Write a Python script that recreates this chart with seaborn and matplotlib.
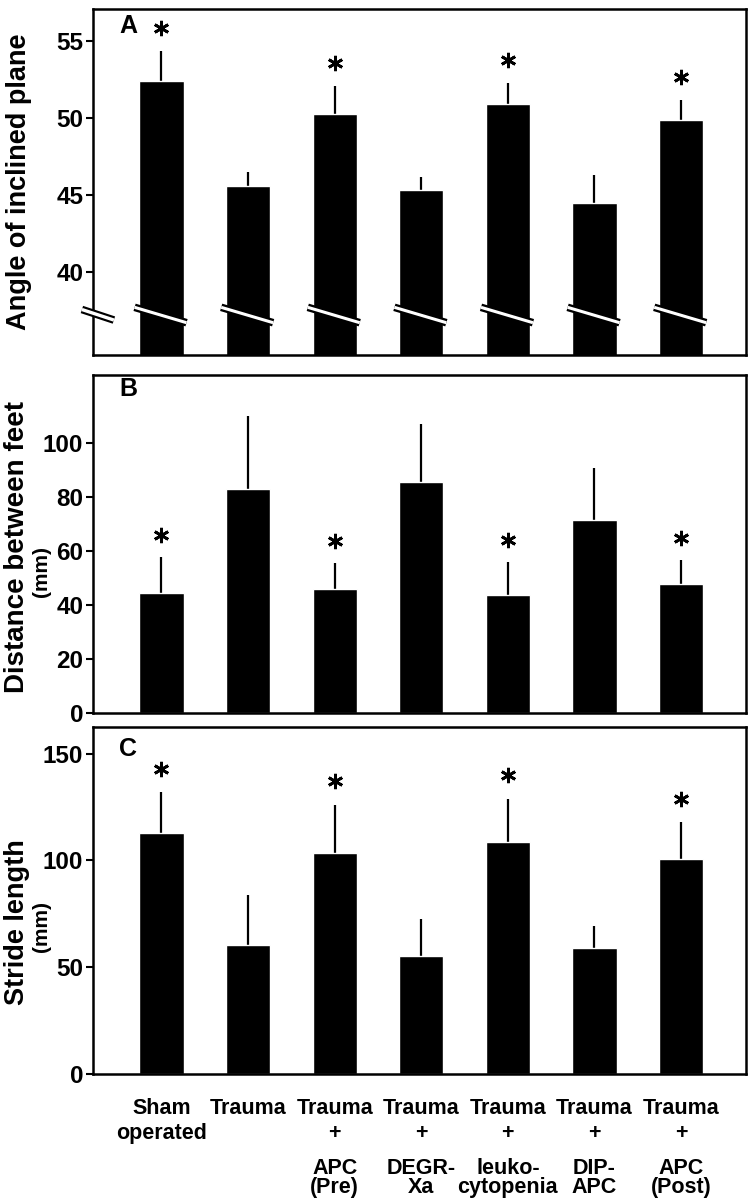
import numpy as np
import pandas as pd
import seaborn as sns
import matplotlib
matplotlib.use("Agg")
import matplotlib.pyplot as plt

# =============================
# 1. DATA
# =============================
groups = ["Sham\noperated", "Trauma", "Trauma\n+", "Trauma\n+",
          "Trauma\n+", "Trauma\n+", "Trauma\n+"]
sub_labels = ["", "", "APC\n(Pre)", "DEGR-\nXa", "leuko-\ncytopenia",
              "DIP-\nAPC", "APC\n(Post)"]
significant = [True, False, True, False, True, False, True]

angle_mean = [52.4, 45.6, 50.25, 45.35, 50.9, 44.5, 49.9]
angle_err = [1.95, 0.9, 1.85, 0.85, 1.4, 1.8, 1.3]

dist_mean = [44.2, 83.0, 45.8, 85.3, 43.6, 71.5, 47.7]
dist_err = [13.4, 27.0, 9.7, 21.7, 12.3, 19.0, 8.9]

stride_mean = [112.7, 60.5, 103.3, 55.4, 108.5, 59.2, 100.9]
stride_err = [19.3, 23.1, 22.7, 17.4, 20.5, 10.3, 16.9]

# =============================
# 2. STYLE
# =============================
sns.set_style("ticks")
plt.rcParams["font.family"] = ["Liberation Sans", "DejaVu Sans"]
plt.rcParams["font.weight"] = "bold"
for key in ["text.color", "axes.labelcolor", "xtick.color", "ytick.color", "axes.edgecolor"]:
    plt.rcParams[key] = "black"

fig = plt.figure(figsize=(7.48, 11.99), dpi=100)
W, H = 748, 1199


def px_axes(left, top, right, bottom):
    return fig.add_axes([left / W, 1 - bottom / H, (right - left) / W, (bottom - top) / H])


ax_a = px_axes(93, 9, 746, 355)
ax_b = px_axes(93, 375, 746, 713)
ax_c = px_axes(93, 727, 746, 1074)

# axes, mean, err, ylim, ticks, star offset, letter, letter offset (px),
# label, unit, label centre (px), unit centre (px)
panels = [
    (ax_a, angle_mean, angle_err, (34.6, 57.1), [40, 45, 50, 55], 1.5, "A", 17,
     "Angle of inclined plane", None, 182, None),
    (ax_b, dist_mean, dist_err, (0, 125), [0, 20, 40, 60, 80, 100], 8.2, "B", 14,
     "Distance between feet", "(mm)", 547, 571),
    (ax_c, stride_mean, stride_err, (0, 162.5), [0, 50, 100, 150], 11.0, "C", 22,
     "Stride length", "(mm)", 922, 927),
]

x = np.arange(len(groups))

for ax, mean, err, ylim, yticks, star_off, letter, letter_dy, ylab, unit, lab_y, unit_y in panels:
    df = pd.DataFrame({"group": [str(i) for i in x], "value": mean})
    sns.barplot(data=df, x="group", y="value", color="black", saturation=1,
                width=0.51, errorbar=None, ax=ax, zorder=2)
    ax.errorbar(x, mean, yerr=[np.zeros(len(err)), err], fmt="none",
                ecolor="black", elinewidth=1.6, capsize=0, zorder=1)

    tops = np.array(mean) + np.array(err)
    sig_x = [i for i in x if significant[i]]
    sig_y = [tops[i] + star_off for i in sig_x]
    ax.plot(sig_x, sig_y, linestyle="none", marker=(6, 2, 0), markersize=11,
            markeredgewidth=2.0, color="black", zorder=3)

    ax.set_xlim(-0.79, 6.75)
    ax.set_ylim(*ylim)
    ax.set_yticks(yticks)
    ax.set_xlabel("")
    ax.set_ylabel("")
    for s in ax.spines.values():
        s.set_linewidth(1.8)
        s.set_visible(True)
    ax.tick_params(axis="y", direction="out", length=5, width=1.5, labelsize=17.5, pad=2)
    ax.tick_params(axis="x", length=0)
    ax.set_xticklabels([])

    ax.text(0.054, 1 - letter_dy / (ax.get_position().height * H), letter,
            transform=ax.transAxes, fontsize=18, fontweight="bold",
            ha="center", va="center")

    # y labels
    fig.text((19 if unit is None else 17) / W, 1 - lab_y / H, ylab, rotation=90,
             fontsize=20 if letter == "B" else 19.5,
             fontweight="bold", ha="center", va="center")
    if unit:
        fig.text(42 / W, 1 - unit_y / H, unit, rotation=90,
                 fontsize=15, fontweight="bold", ha="center", va="center")

# =============================
# 3. AXIS BREAK MARKS (panel A)
# =============================
for i in x:
    ax_a.plot([i - 0.31, i + 0.29], [37.7, 36.7], color="black", lw=5.5,
              solid_capstyle="butt", zorder=4, clip_on=False)
    ax_a.plot([i - 0.31, i + 0.29], [37.7, 36.7], color="white", lw=2.2,
              solid_capstyle="butt", zorder=5, clip_on=False)

ax_a.plot([-0.017, 0.032], [0.1315, 0.101], color="black", lw=5.5,
          solid_capstyle="butt", transform=ax_a.transAxes, clip_on=False, zorder=6)
ax_a.plot([-0.017, 0.032], [0.1315, 0.101], color="white", lw=2.4,
          solid_capstyle="butt", transform=ax_a.transAxes, clip_on=False, zorder=7)

# =============================
# 4. GROUP LABELS (under panel C)
# =============================
ax_c.set_xticks(x)
ax_c.set_xticklabels(groups, fontsize=15.5, fontweight="bold", linespacing=1.25)
ax_c.tick_params(axis="x", length=0, pad=17)

for i in x:
    if sub_labels[i]:
        ax_c.text(i, -0.242, sub_labels[i], transform=ax_c.get_xaxis_transform(),
                  ha="center", va="top", fontsize=15.5, fontweight="bold",
                  linespacing=0.85)

fig.savefig("out.png", dpi=100)
